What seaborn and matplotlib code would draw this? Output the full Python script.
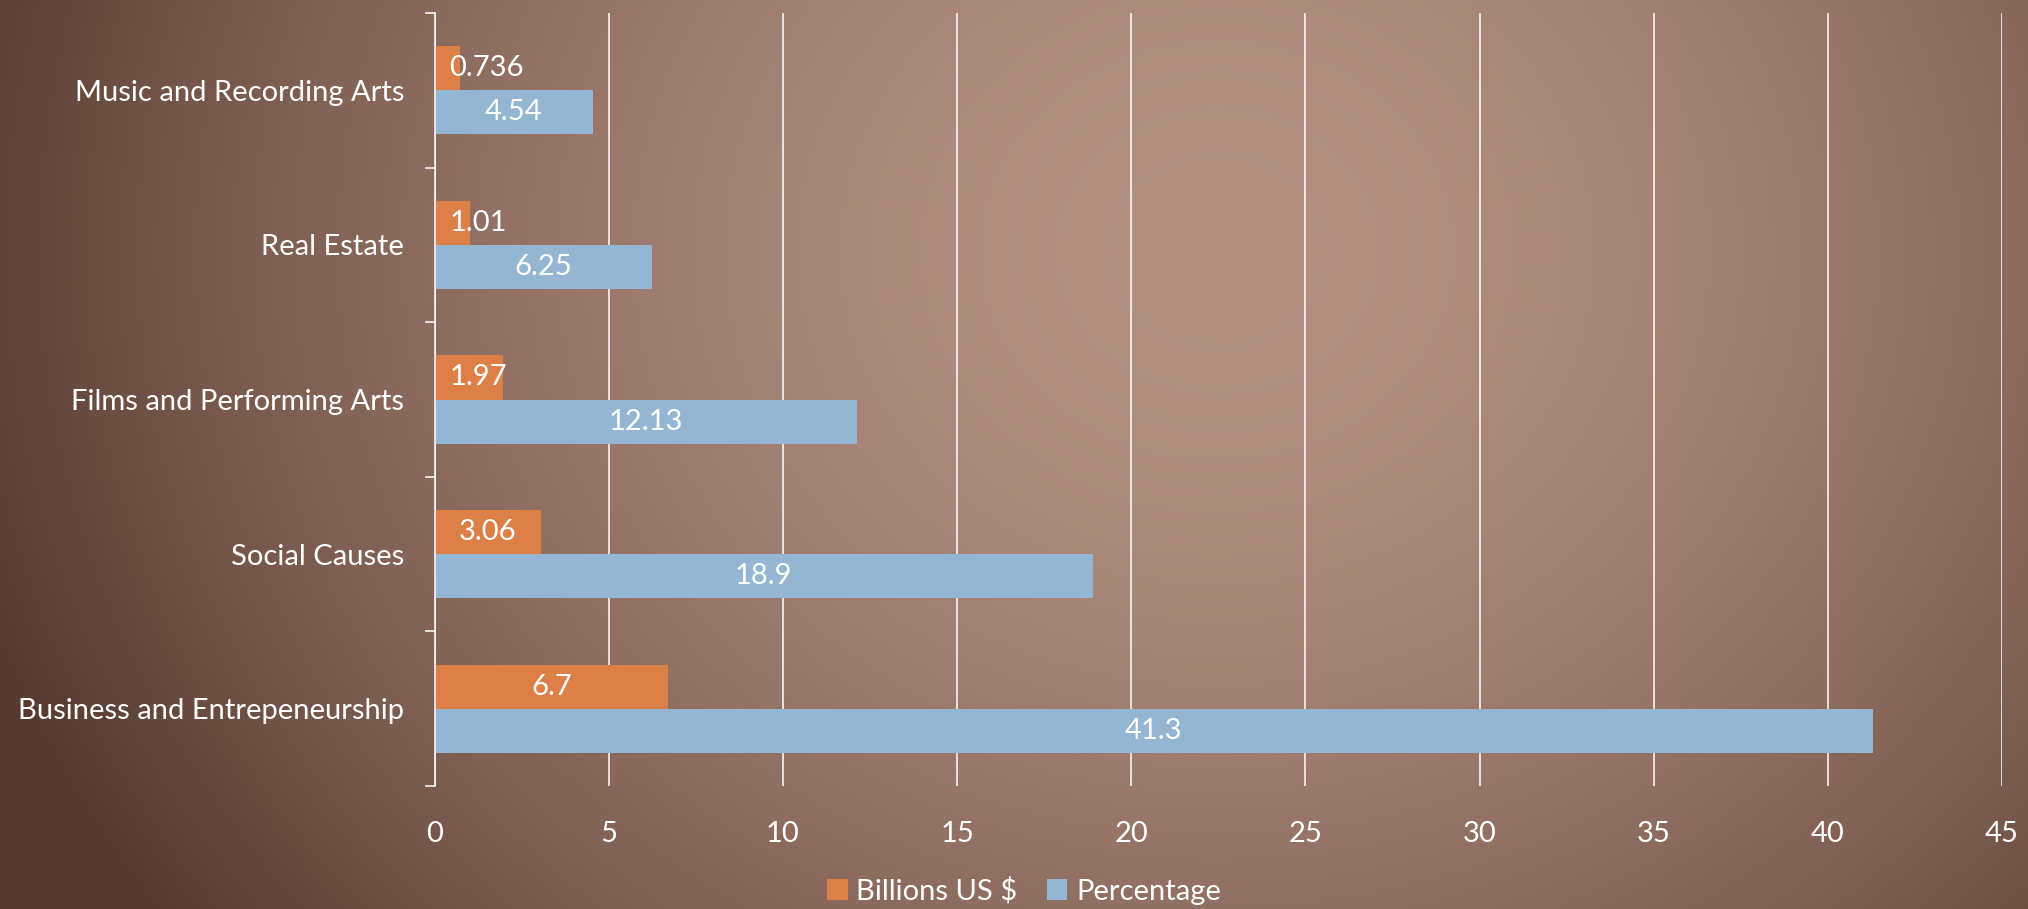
import numpy as np
import pandas as pd
import matplotlib
matplotlib.use("Agg")
import matplotlib.pyplot as plt
from matplotlib.patches import Patch
import seaborn as sns

categories = ["Music and Recording Arts", "Real Estate", "Films and Performing Arts",
              "Social Causes", "Business and Entrepeneurship"]
billions = [0.736, 1.01, 1.97, 3.06, 6.7]
percentage = [4.54, 6.25, 12.13, 18.9, 41.3]
series_names = ["Billions US $", "Percentage"]
xticks = [0, 5, 10, 15, 20, 25, 30, 35, 40, 45]

colors = {"Billions US $": "#DD8047", "Percentage": "#94B6D2"}

df = pd.DataFrame({
    "category": categories * 2,
    "series": [series_names[0]] * len(categories) + [series_names[1]] * len(categories),
    "value": billions + percentage,
})

sns.set_style("white")
plt.rcParams['font.family'] = ['Lato', 'DejaVu Sans']

W, H, DPI = 2028, 909, 100
fig = plt.figure(figsize=(W / DPI, H / DPI), dpi=DPI)

# background radial gradient
yy, xx = np.mgrid[0:H, 0:W]
cx, cy, rx, ry = 1217.0, 250.0, 1300.0, 1150.0
d = np.sqrt(((xx - cx) / rx) ** 2 + ((yy - cy) / ry) ** 2)
t = np.clip(d, 0, 1) ** 1.8
c0 = np.array([0xB2, 0x8F, 0x81]) / 255.0
c1 = np.array([0x56, 0x3A, 0x2F]) / 255.0
img = c0[None, None, :] * (1 - t[..., None]) + c1[None, None, :] * t[..., None]
bg = fig.add_axes([0, 0, 1, 1])
bg.imshow(img, aspect='auto', interpolation='bilinear')
bg.axis('off')
bg.set_zorder(0)

x0px, x1px, y0px, y1px = 434.6, 2002.0, 13.0, 786.0
ax = fig.add_axes([x0px / W, 1 - y1px / H, (x1px - x0px) / W, (y1px - y0px) / H])
ax.set_zorder(1)
ax.patch.set_alpha(0)

sns.barplot(data=df, y="category", x="value", hue="series", order=categories,
            hue_order=series_names, palette=colors, orient="h", width=0.57,
            ax=ax, legend=False, linewidth=0, saturation=1)

FS = 21
ax.set_xlim(0, 45)
ax.set_ylim(len(categories) - 0.5, -0.5)
ax.set_xticks(xticks)
ax.set_xlabel("")
ax.set_ylabel("")
ax.grid(axis='x', color='white', linewidth=1.1, zorder=0)
ax.grid(axis='y', visible=False)
ax.set_axisbelow(True)
for s in ["top", "right", "bottom"]:
    ax.spines[s].set_visible(False)
ax.spines["left"].set_color("white")
ax.spines["left"].set_linewidth(1.1)

ax.set_yticks(np.arange(-0.5, len(categories) + 0.5, 1), minor=True)
ax.tick_params(axis='y', which='minor', length=7, width=1.1, color='white', left=True)
ax.tick_params(axis='y', which='major', length=0, pad=22, labelsize=FS, labelcolor='white')
ax.tick_params(axis='x', which='both', length=0, pad=25, labelsize=FS, labelcolor='white')

# data labels
texts = []
for cont in ax.containers:
    for rect in cont:
        w = rect.get_width()
        yc = rect.get_y() + rect.get_height() / 2
        lab = ("%g" % w)
        txt = ax.text(w / 2, yc, lab, ha='center', va='center', color='white', fontsize=FS, zorder=5)
        texts.append(txt)

fig.canvas.draw()
r = fig.canvas.get_renderer()
min_left = x0px + 15
for txt in texts:
    bb = txt.get_window_extent(r)
    if bb.x0 < min_left:
        shift = min_left - bb.x0
        xd, yd = txt.get_position()
        px = ax.transData.transform((xd, yd))
        newx = ax.transData.inverted().transform((px[0] + shift, px[1]))[0]
        txt.set_position((newx, yd))

handles = [Patch(facecolor=colors[s], edgecolor='none', label=s.replace("$", "\\$")) for s in series_names]
fig.legend(handles=handles, loc='center', bbox_to_anchor=(1024 / W, 1 - 891 / H), ncol=2,
           frameon=False, fontsize=FS, labelcolor='white', handlelength=0.7, handleheight=0.7,
           handletextpad=0.3, columnspacing=1.0)

fig.savefig("out.png", dpi=DPI)
